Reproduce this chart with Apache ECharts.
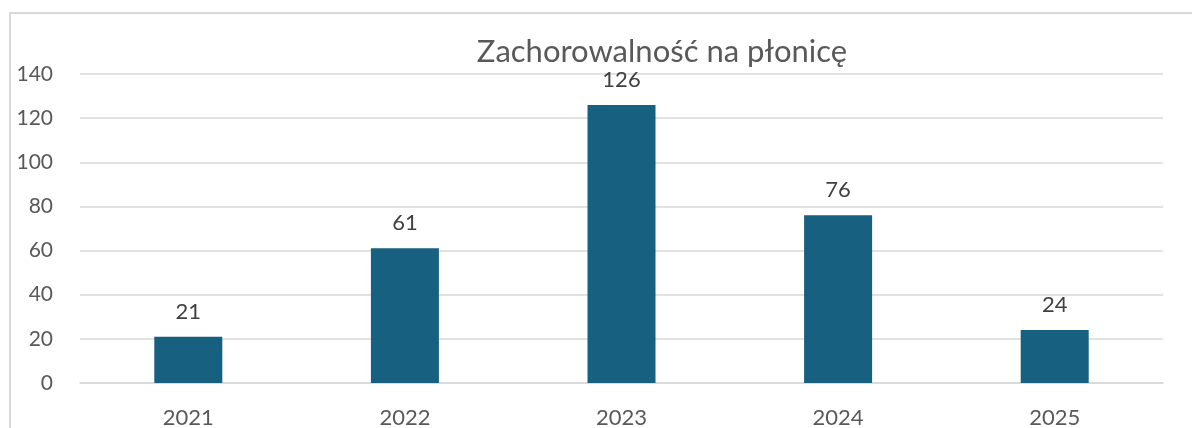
<!DOCTYPE html>
<html>
<head>
<meta charset="utf-8">
<script src="https://cdn.jsdelivr.net/npm/echarts@6/dist/echarts.min.js"></script>
<style>
  html, body { margin: 0; padding: 0; background: #fff; }
  #chart { width: 1192px; height: 428px; }
</style>
</head>
<body>
<div id="chart"></div>
<script>
// dane wykresu
var years = ["2021", "2022", "2023", "2024", "2025"];
var cases = [21, 61, 126, 76, 24];
var titleText = "Zachorowalność na płonicę";

var chart = echarts.init(document.getElementById("chart"));
chart.setOption({
  animation: false,
  textStyle: { fontFamily: "Lato" },
  title: {
    text: titleText,
    left: 657,
    textAlign: "center",
    top: 31,
    textStyle: { fontSize: 31, fontWeight: "normal", color: "#595959", fontFamily: "Lato" }
  },
  graphic: [
    {
      type: "rect",
      shape: { x: 10, y: 13, width: 1300, height: 500 },
      style: { fill: "none", stroke: "#d9d9d9", lineWidth: 2 },
      silent: true
    }
  ],
  grid: { left: 80, right: 29, top: 74, bottom: 45, outerBoundsMode: "none", containLabel: false },
  xAxis: {
    type: "category",
    data: years,
    axisTick: { show: false },
    axisLine: { lineStyle: { color: "#d9d9d9", width: 1.5 } },
    axisLabel: { color: "#595959", fontSize: 22, margin: 24 }
  },
  yAxis: {
    type: "value",
    min: 0,
    max: 140,
    interval: 20,
    axisLine: { show: false },
    axisTick: { show: false },
    splitLine: { lineStyle: { color: "#d9d9d9", width: 1.5 } },
    axisLabel: { color: "#595959", fontSize: 21, margin: 27 }
  },
  series: [
    {
      type: "bar",
      data: cases,
      barWidth: 68,
      itemStyle: { color: "#17607f" },
      label: {
        show: true,
        position: "top",
        distance: 14,
        color: "#404040",
        fontSize: 22
      }
    }
  ]
});
</script>
</body>
</html>
